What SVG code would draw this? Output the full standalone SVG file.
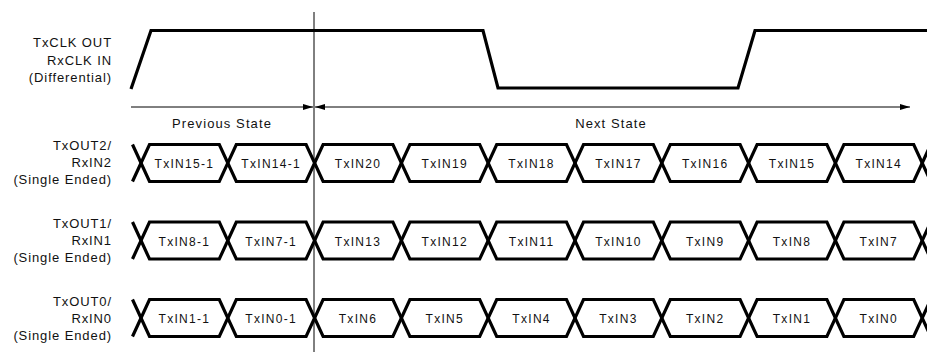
<svg xmlns="http://www.w3.org/2000/svg" width="927" height="352" viewBox="0 0 927 352">
<style>
.lbl{font-family:"Liberation Sans",Arial,sans-serif;font-size:13px;letter-spacing:0.9px;fill:#111;text-anchor:end}
.cell{font-family:"Liberation Sans",Arial,sans-serif;font-size:12px;letter-spacing:1.3px;fill:#111;text-anchor:middle}
.st{font-family:"Liberation Sans",Arial,sans-serif;font-size:13px;letter-spacing:1.1px;fill:#111;text-anchor:middle}
.sig{fill:none;stroke:#000;stroke-width:3.2;stroke-linejoin:miter}
.thin{fill:none;stroke:#000;stroke-width:1}
</style>
<defs>
<marker id="ah" viewBox="0 0 10 6" refX="10" refY="3" markerWidth="10" markerHeight="6" markerUnits="userSpaceOnUse" orient="auto-start-reverse">
<path d="M0,0 L10,3 L0,6 Z" fill="#000"/>
</marker>
<g id="bus">
<path class="sig" d="M132.5,-18.5 L149.5,18.5 L219.3,18.5 L236.3,-18.5 L306.1,-18.5 L323.1,18.5 L392.9,18.5 L409.9,-18.5 L479.7,-18.5 L496.7,18.5 L566.5,18.5 L583.5,-18.5 L653.3,-18.5 L670.3,18.5 L740.1,18.5 L757.1,-18.5 L826.9,-18.5 L843.9,18.5 L913.7,18.5 L930.7,-18.5"/>
<path class="sig" d="M132.5,18.5 L149.5,-18.5 L219.3,-18.5 L236.3,18.5 L306.1,18.5 L323.1,-18.5 L392.9,-18.5 L409.9,18.5 L479.7,18.5 L496.7,-18.5 L566.5,-18.5 L583.5,18.5 L653.3,18.5 L670.3,-18.5 L740.1,-18.5 L757.1,18.5 L826.9,18.5 L843.9,-18.5 L913.7,-18.5 L930.7,18.5"/>
</g>
</defs>

<g id="clk">
<path class="sig" d="M131,89 L151,30.5 L483,30.5 L498,88 L738,88 L755,30.5 L930,30.5"/>
<text class="lbl" x="112" y="47">TxCLK OUT</text>
<text class="lbl" x="112" y="65">RxCLK IN</text>
<text class="lbl" x="112" y="82">(Differential)</text>
</g>

<g id="connectors">
<line class="thin" x1="314" y1="12" x2="314" y2="352" stroke="#333"/>
<line class="thin" x1="131" y1="107" x2="313" y2="107" marker-end="url(#ah)"/>
<line class="thin" x1="315" y1="107" x2="910" y2="107" marker-start="url(#ah)" marker-end="url(#ah)"/>
</g>

<g id="states">
<text class="st" x="222" y="128">Previous State</text>
<text class="st" x="611" y="128">Next State</text>
</g>

<g id="out2">
<use href="#bus" transform="translate(0,163)"/>
<text class="lbl" x="112" y="150">TxOUT2/</text>
<text class="lbl" x="112" y="167">RxIN2</text>
<text class="lbl" x="112" y="184">(Single Ended)</text>
<text class="cell" x="184.4" y="168">TxIN15-1</text>
<text class="cell" x="271.2" y="168">TxIN14-1</text>
<text class="cell" x="358" y="168">TxIN20</text>
<text class="cell" x="444.8" y="168">TxIN19</text>
<text class="cell" x="531.6" y="168">TxIN18</text>
<text class="cell" x="618.4" y="168">TxIN17</text>
<text class="cell" x="705.2" y="168">TxIN16</text>
<text class="cell" x="792" y="168">TxIN15</text>
<text class="cell" x="878.8" y="168">TxIN14</text>
</g>

<g id="out1">
<use href="#bus" transform="translate(0,240.5)"/>
<text class="lbl" x="112" y="228">TxOUT1/</text>
<text class="lbl" x="112" y="245">RxIN1</text>
<text class="lbl" x="112" y="262">(Single Ended)</text>
<text class="cell" x="184.4" y="245.5">TxIN8-1</text>
<text class="cell" x="271.2" y="245.5">TxIN7-1</text>
<text class="cell" x="358" y="245.5">TxIN13</text>
<text class="cell" x="444.8" y="245.5">TxIN12</text>
<text class="cell" x="531.6" y="245.5">TxIN11</text>
<text class="cell" x="618.4" y="245.5">TxIN10</text>
<text class="cell" x="705.2" y="245.5">TxIN9</text>
<text class="cell" x="792" y="245.5">TxIN8</text>
<text class="cell" x="878.8" y="245.5">TxIN7</text>
</g>

<g id="out0">
<use href="#bus" transform="translate(0,318)"/>
<text class="lbl" x="112" y="306">TxOUT0/</text>
<text class="lbl" x="112" y="323">RxIN0</text>
<text class="lbl" x="112" y="340">(Single Ended)</text>
<text class="cell" x="184.4" y="323">TxIN1-1</text>
<text class="cell" x="271.2" y="323">TxIN0-1</text>
<text class="cell" x="358" y="323">TxIN6</text>
<text class="cell" x="444.8" y="323">TxIN5</text>
<text class="cell" x="531.6" y="323">TxIN4</text>
<text class="cell" x="618.4" y="323">TxIN3</text>
<text class="cell" x="705.2" y="323">TxIN2</text>
<text class="cell" x="792" y="323">TxIN1</text>
<text class="cell" x="878.8" y="323">TxIN0</text>
</g>
</svg>
